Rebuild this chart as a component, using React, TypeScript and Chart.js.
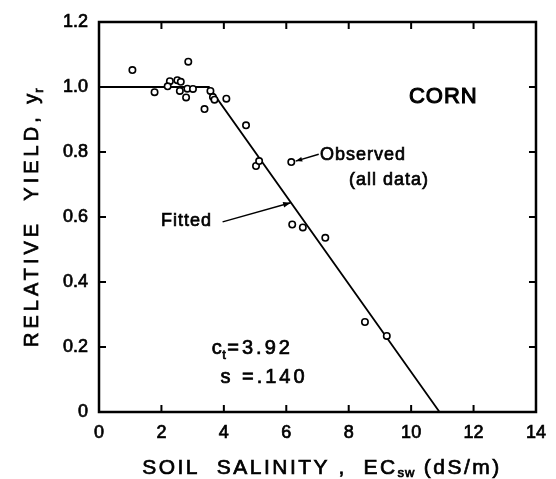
import React, { useEffect, useRef } from "react";
import { Chart, registerables } from "chart.js";

Chart.register(...registerables);

// Observed data points (soil salinity EC_sw, relative yield)
const observedX = [1.07, 1.78, 2.86, 2.27, 2.2, 2.51, 2.62, 2.59, 2.79, 2.83, 3.01, 3.38, 3.57, 3.65, 3.7, 4.08, 4.71, 5.03, 5.13, 6.19, 6.53, 7.25, 8.52, 9.22];
const observedY = [1.052, 0.984, 1.078, 1.018, 1.002, 1.021, 1.016, 0.988, 0.968, 0.995, 0.994, 0.932, 0.988, 0.969, 0.961, 0.964, 0.882, 0.757, 0.772, 0.577, 0.568, 0.536, 0.277, 0.234];
// Legend marker for "Observed"
const markerX = [6.16];
const markerY = [0.769];
// Fitted piecewise-linear response
const fitX = [0, 3.52, 10.91];
const fitY = [1, 1, 0];
// Tick labels
const xTicks = [0, 2, 4, 6, 8, 10, 12, 14];
const yTicks = [0, 0.2, 0.4, 0.6, 0.8, 1.0, 1.2];

const FONT = "'Liberation Sans', Arial, sans-serif";
const STROKE = 0.7;

function drawArrow(ctx: CanvasRenderingContext2D, x1: number, y1: number, x2: number, y2: number, head: number) {
  ctx.beginPath();
  ctx.moveTo(x1, y1);
  ctx.lineTo(x2, y2);
  ctx.stroke();
  const a = Math.atan2(y2 - y1, x2 - x1);
  ctx.beginPath();
  ctx.moveTo(x2, y2);
  ctx.lineTo(x2 - head * Math.cos(a - 0.35), y2 - head * Math.sin(a - 0.35));
  ctx.lineTo(x2 - head * Math.cos(a + 0.35), y2 - head * Math.sin(a + 0.35));
  ctx.closePath();
  ctx.fill();
}

function text(ctx: CanvasRenderingContext2D, s: string, x: number, y: number) {
  ctx.fillText(s, x, y);
  ctx.strokeText(s, x, y);
}

const decorPlugin = {
  id: "decor",
  afterDraw(chart: any) {
    const ctx: CanvasRenderingContext2D = chart.ctx;
    const xs = chart.scales.x;
    const ys = chart.scales.y;
    const X = (v: number) => xs.getPixelForValue(v);
    const Y = (v: number) => ys.getPixelForValue(v);
    const { left, right, top, bottom } = chart.chartArea;
    ctx.save();
    ctx.strokeStyle = "#000";
    ctx.fillStyle = "#000";
    // frame
    ctx.lineWidth = 2.5;
    ctx.strokeRect(left, top, right - left, bottom - top);
    // inward ticks
    ctx.lineWidth = 2;
    const tl = 7;
    ctx.beginPath();
    xTicks.forEach((t) => {
      const px = X(t);
      ctx.moveTo(px, bottom);
      ctx.lineTo(px, bottom - tl);
      ctx.moveTo(px, top);
      ctx.lineTo(px, top + tl);
    });
    yTicks.forEach((t) => {
      const py = Y(t);
      ctx.moveTo(left, py);
      ctx.lineTo(left + tl, py);
      ctx.moveTo(right, py);
      ctx.lineTo(right - tl, py);
    });
    ctx.stroke();

    ctx.lineWidth = 1.5;
    drawArrow(ctx, X(7.04), Y(0.793), X(6.3), Y(0.772), 7);
    drawArrow(ctx, X(3.96), Y(0.585), X(6.14), Y(0.644), 8);

    ctx.textAlign = "left";
    ctx.textBaseline = "alphabetic";
    ctx.lineWidth = STROKE;
    const c: any = ctx;

    // CORN
    ctx.font = `22px ${FONT}`;
    c.letterSpacing = "1px";
    ctx.textAlign = "center";
    ctx.lineWidth = 1.1;
    text(ctx, "CORN", X(11.03), Y(0.95));
    ctx.lineWidth = STROKE;
    ctx.textAlign = "left";

    // Observed
    ctx.font = `18px ${FONT}`;
    c.letterSpacing = "1px";
    text(ctx, "Observed", X(7.08), Y(0.775));
    text(ctx, "(all data)", X(8.01), Y(0.70));
    text(ctx, "Fitted", X(1.99), Y(0.572));

    // c_t = 3.92
    ctx.font = `20px ${FONT}`;
    c.letterSpacing = "0px";
    const x0 = X(3.61);
    const y0 = Y(0.178);
    text(ctx, "c", x0, y0);
    let w = ctx.measureText("c").width;
    ctx.font = `13px ${FONT}`;
    text(ctx, "t", x0 + w + 0.5, y0 + 5);
    w += ctx.measureText("t").width + 2;
    ctx.font = `20px ${FONT}`;
    c.letterSpacing = "3px";
    text(ctx, "=3.92", x0 + w, y0);
    // s = .140
    text(ctx, "s =.140", X(3.89), Y(0.089));

    // X axis title
    c.letterSpacing = "2.5px";
    ctx.font = `21px ${FONT}`;
    const tx = "SOIL  SALINITY ,  EC";
    const sub = "sw";
    const tail = " (dS/m)";
    const wMain = ctx.measureText(tx).width;
    ctx.font = `13px ${FONT}`;
    c.letterSpacing = "1px";
    const wSub = ctx.measureText(sub).width;
    ctx.font = `21px ${FONT}`;
    c.letterSpacing = "2.5px";
    const wTail = ctx.measureText(tail).width;
    const total = wMain + wSub + wTail;
    const sx = 322 - total / 2;
    const by = 474;
    text(ctx, tx, sx, by);
    ctx.font = `13px ${FONT}`;
    c.letterSpacing = "1px";
    text(ctx, sub, sx + wMain, by + 3);
    ctx.font = `21px ${FONT}`;
    c.letterSpacing = "2.5px";
    text(ctx, tail, sx + wMain + wSub, by);

    // Y axis title (rotated)
    ctx.save();
    ctx.translate(38, 347);
    ctx.rotate(-Math.PI / 2);
    ctx.font = `20px ${FONT}`;
    c.letterSpacing = "4px";
    const ty = "RELATIVE  YIELD, y";
    text(ctx, ty, 0, 0);
    const wy = ctx.measureText(ty).width;
    ctx.font = `13px ${FONT}`;
    c.letterSpacing = "0px";
    text(ctx, "r", wy - 3, 5);
    ctx.restore();

    c.letterSpacing = "0px";
    ctx.restore();
  },
};

export default function App() {
  const ref = useRef<HTMLCanvasElement | null>(null);
  useEffect(() => {
    document.body.style.margin = "0";
    const canvas = ref.current;
    if (!canvas) return;
    const chart = new Chart(canvas, {
      type: "scatter",
      data: {
        datasets: [
          {
            label: "Observed",
            data: observedX.map((x, i) => ({ x, y: observedY[i] })),
            pointStyle: "circle",
            pointRadius: 3.2,
            pointBorderWidth: 1.6,
            pointBackgroundColor: "#fff",
            pointBorderColor: "#000",
            showLine: false,
          },
          {
            label: "Marker",
            data: markerX.map((x, i) => ({ x, y: markerY[i] })),
            pointStyle: "circle",
            pointRadius: 3.2,
            pointBorderWidth: 1.6,
            pointBackgroundColor: "#fff",
            pointBorderColor: "#000",
            showLine: false,
          },
          {
            label: "Fitted",
            data: fitX.map((x, i) => ({ x, y: fitY[i] })),
            showLine: true,
            borderColor: "#000",
            borderWidth: 1.8,
            pointRadius: 0,
            fill: false,
          } as any,
        ],
      },
      options: {
        animation: false,
        responsive: false,
        events: [],
        layout: { padding: { top: 22, right: 15, left: 0, bottom: 0 } },
        plugins: { legend: { display: false }, tooltip: { enabled: false } },
        scales: {
          x: {
            type: "linear",
            min: 0,
            max: 14,
            afterFit: (s: any) => {
              s.height = 67;
            },
            afterBuildTicks: (s: any) => {
              s.ticks = xTicks.map((v) => ({ value: v }));
            },
            grid: { display: false, drawTicks: false },
            border: { display: false },
            ticks: {
              color: "#000",
              textStrokeColor: "#000",
              textStrokeWidth: STROKE,
              padding: 10,
              font: { family: FONT, size: 18 },
              maxRotation: 0,
              callback: (v: any) => String(v),
            },
          },
          y: {
            type: "linear",
            min: 0,
            max: 1.2,
            afterFit: (s: any) => {
              s.width = 99;
            },
            afterBuildTicks: (s: any) => {
              s.ticks = yTicks.map((v) => ({ value: v }));
            },
            grid: { display: false, drawTicks: false },
            border: { display: false },
            ticks: {
              color: "#000",
              textStrokeColor: "#000",
              textStrokeWidth: STROKE,
              padding: 11,
              font: { family: FONT, size: 18 },
              callback: (v: any) => (Number(v) === 0 ? "0" : Number(v).toFixed(1)),
            },
          },
        },
      },
      plugins: [decorPlugin],
    });
    return () => chart.destroy();
  }, []);
  return (
    <div style={{ width: 556, height: 479, background: "#fff" }}>
      <canvas ref={ref} width={556} height={479} style={{ width: 556, height: 479, display: "block" }} />
    </div>
  );
}
